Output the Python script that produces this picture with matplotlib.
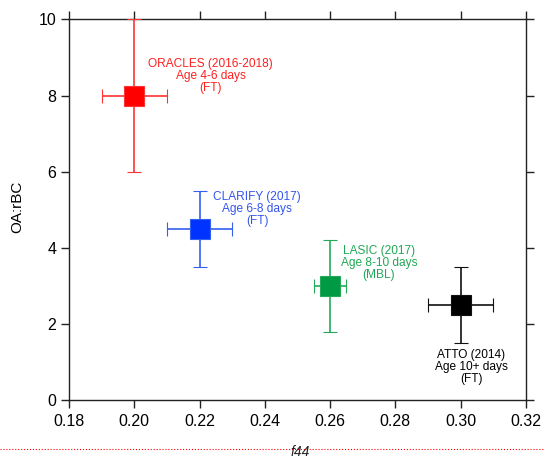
import matplotlib
matplotlib.use('Agg')
import matplotlib.pyplot as plt
from matplotlib.lines import Line2D

plt.rcParams['font.family'] = ['Liberation Sans', 'DejaVu Sans']

# Campaign data
campaigns = ['ORACLES', 'CLARIFY', 'LASIC', 'ATTO']
f44 = [0.20, 0.22, 0.26, 0.30]
f44_err = [0.01, 0.01, 0.005, 0.01]
oa_rbc = [8.0, 4.5, 3.0, 2.5]
oa_rbc_err = [2.0, 1.0, 1.2, 1.0]
labels = ['ORACLES (2016-2018)\nAge 4-6 days\n(FT)',
          'CLARIFY (2017)\nAge 6-8 days\n(FT)',
          'LASIC (2017)\nAge 8-10 days\n(MBL)',
          'ATTO (2014)\nAge 10+ days\n(FT)']
label_x = [0.2234, 0.2376, 0.2749, 0.3033]
label_y = [8.52, 5.03, 3.60, 0.87]
marker_colors = ['#ff0000', '#0033ff', '#009944', '#000000']
bar_colors = ['#ff3333', '#3360ee', '#22aa5a', '#111111']
text_colors = ['#ff2020', '#3355ee', '#20a855', '#000000']

fig = plt.figure(figsize=(5.44, 4.59), dpi=100)
ax = fig.add_axes([0.1268, 0.1275, 0.8401, 0.8305])

for i in range(len(campaigns)):
    ax.errorbar(f44[i], oa_rbc[i], xerr=f44_err[i], yerr=oa_rbc_err[i],
                fmt='s', color=bar_colors[i], ecolor=bar_colors[i],
                markerfacecolor=marker_colors[i], markeredgecolor=bar_colors[i],
                markersize=14.4, markeredgewidth=0.8, elinewidth=1.2,
                capsize=5, capthick=1.2, zorder=3)
    ax.text(label_x[i], label_y[i], labels[i], color=text_colors[i],
            ha='center', va='center', fontsize=8.6, linespacing=1.0)

ax.set_xlim(0.18, 0.32)
ax.set_ylim(0, 10)
ax.set_xticks([0.18, 0.20, 0.22, 0.24, 0.26, 0.28, 0.30, 0.32])
ax.set_yticks([0, 2, 4, 6, 8, 10])
ax.set_xticklabels(['0.18', '0.20', '0.22', '0.24', '0.26', '0.28', '0.30', '0.32'])
ax.tick_params(direction='out', length=6, width=1, labelsize=11.5,
               top=True, right=True, labeltop=False, labelright=False, color='#222222')
ax.tick_params(axis='x', pad=4)
ax.tick_params(axis='y', pad=3)
for s in ax.spines.values():
    s.set_linewidth(1)
    s.set_color('#222222')

ax.set_ylabel('OA:rBC', fontsize=11)
ax.yaxis.set_label_coords(-0.097, 0.508)

# dotted red rule and italic x label at the very bottom
fig.add_artist(Line2D([0, 1], [0.0218, 0.0218], transform=fig.transFigure,
                      color='red', linestyle=':', linewidth=0.8))
fig.text(0.552, 0.016, 'f44', ha='center', va='center', fontsize=10,
         style='italic', color='#222222')

fig.savefig('out.png', dpi=100)
